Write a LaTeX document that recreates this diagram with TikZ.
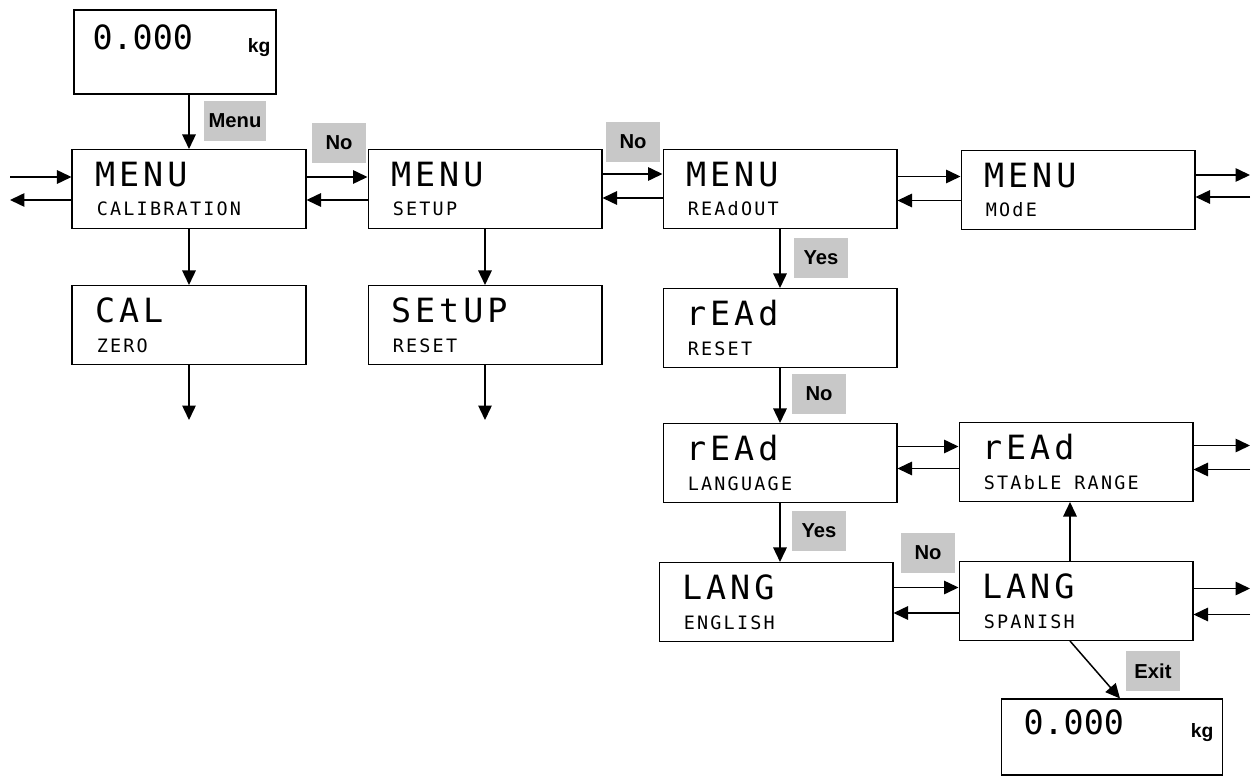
\documentclass[tikz,border=0pt]{standalone}
\usepackage{fontspec}
\setmainfont{Liberation Sans}
\newfontfamily\lcdbigfont[LetterSpace=12]{DejaVu Sans Mono}
\newfontfamily\lcdsmallfont[LetterSpace=12]{DejaVu Sans Mono}
\newfontfamily\lcdnumfont{DejaVu Sans Mono}
\usetikzlibrary{arrows.meta,positioning,calc}
\definecolor{tagfill}{RGB}{200,200,200}

\newcommand{\lcdtext}[2]{{\lcdbigfont\fontsize{19}{20}\selectfont #1}\\
  {\lcdsmallfont\fontsize{10.5}{17}\selectfont\hspace*{1pt}#2}}
\newcommand{\kgread}{{\lcdnumfont\fontsize{19}{20}\selectfont 0.000}\hfill
  \raisebox{-0.06cm}{\bfseries\fontsize{11}{12}\selectfont kg}\kern-0.26cm\\\mbox{}}

\begin{document}
\begin{tikzpicture}[x=0.02cm, y=-0.02cm,
  disp/.style={draw, line width=0.6pt, text width=3.76cm, inner xsep=0.46cm,
               minimum height=1.58cm, align=left, font=\fontsize{10}{17}\selectfont},
  kgbox/.style={disp, text width=3.3cm, inner xsep=0.37cm, minimum height=1.68cm},
  tag/.style={fill=tagfill, font=\bfseries\fontsize{11.5}{13}\selectfont,
              minimum width=1.08cm, minimum height=0.8cm, inner xsep=1mm},
  ar/.style={-{Triangle[length=2.9mm,width=2.7mm]}, line width=0.85pt}]
  \useasboundingbox (0,0) rectangle (1256,783);

  % displays
  \node[kgbox] (zero) at (175,52) {\kgread};
  \node[disp] (mcal)  at (189,189)  {\lcdtext{MENU}{CALIBRATION}};
  \node[disp] (mset)  at (485,189)  {\lcdtext{MENU}{SETUP}};
  \node[disp] (mread) at (780,189)  {\lcdtext{MENU}{REAdOUT}};
  \node[disp] (mmode) at (1078,190) {\lcdtext{MENU}{MOdE}};
  \node[disp] (cal)   at (189,325)  {\lcdtext{CAL}{ZERO}};
  \node[disp] (setup) at (485,325)  {\lcdtext{SEtUP}{RESET}};
  \node[disp] (rdreset) at (780,328) {\lcdtext{rEAd}{RESET}};
  \node[disp] (rdlang)  at (780,463) {\lcdtext{rEAd}{LANGUAGE}};
  \node[disp] (rdstab)  at (1076,462) {\lcdtext{rEAd}{STAbLE\hspace{0.7em}RANGE}};
  \node[disp] (eng)   at (776,602)  {\lcdtext{LANG}{ENGLISH}};
  \node[disp] (spa)   at (1076,601) {\lcdtext{LANG}{SPANISH}};
  \node[kgbox, text width=3.54cm, inner xsep=0.44cm, minimum height=1.52cm]
       (back) at (1112,737) {\kgread};

  % free ends
  \coordinate (rimL) at (10,0);
  \coordinate (rimR) at (1250,0);
  \coordinate (calout) at (189,420);
  \coordinate (setout) at (485,420);

  % down the columns
  \draw[ar] (mcal.north |- zero.south) -- (mcal.north);
  \foreach \a/\b in {mcal/cal, mset/setup, mread/rdreset, rdreset/rdlang}
    \draw[ar] (\a.south) -- (\b.north);
  \draw[ar] (rdlang.south) -- (rdlang.south |- eng.north);
  \draw[ar] (cal.south) -- (calout);
  \draw[ar] (setup.south) -- (setout);
  \draw[ar] ([xshift=-1.2mm]spa.north) -- ([xshift=-1.2mm]spa.north |- rdstab.south);
  \draw[ar] ([xshift=-1.2mm]spa.south) -- ([xshift=1.6mm]back.north);

  % back and forth
  \foreach \a/\b/\u/\d in {mcal/mset/2.4/2.2, mset/mread/3/1.8, mread/mmode/2.5/2.1,
                           rdlang/rdstab/3.3/1.3, eng/spa/2.9/2.4} {
    \draw[ar] ([yshift=\u mm]\a.east) -- ([yshift=\u mm]\a.east -| \b.west);
    \draw[ar] ([yshift=-\d mm]\b.west) -- ([yshift=-\d mm]\b.west -| \a.east);
  }
  \draw[ar] ([yshift=2.4mm]mcal.west -| rimL) -- ([yshift=2.4mm]mcal.west);
  \draw[ar] ([yshift=-2.2mm]mcal.west) -- ([yshift=-2.2mm]mcal.west -| rimL);
  \foreach \n/\u/\d in {mmode/3/1.4, rdstab/3.3/1.5, spa/2.5/2.7} {
    \draw[ar] ([yshift=\u mm]\n.east) -- ([yshift=\u mm]\n.east -| rimR);
    \draw[ar] ([yshift=-\d mm]\n.east -| rimR) -- ([yshift=-\d mm]\n.east);
  }

  % key presses
  \node[tag] (kmenu) at (235,121) {Menu};
  \node[tag] (kno1)  at (339,143) {No};
  \node[tag] (kno2)  at (633,142) {No};
  \node[tag] (kyes1) at (821,258) {Yes};
  \node[tag] (kno3)  at (819,394) {No};
  \node[tag] (kyes2) at (819,531) {Yes};
  \node[tag] (kno4)  at (928,553) {No};
  \node[tag] (kexit) at (1153,671) {Exit};
\end{tikzpicture}
\end{document}
